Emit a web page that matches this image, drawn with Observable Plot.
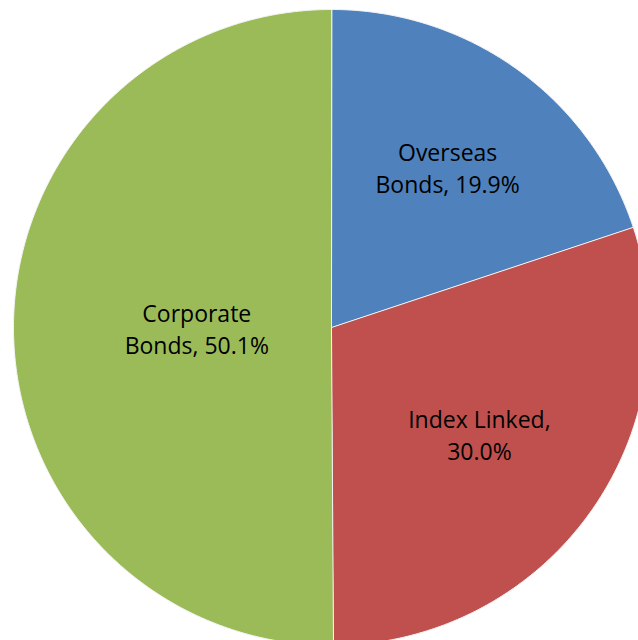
<!DOCTYPE html>
<html>
<head>
<meta charset="utf-8">
<script src="https://cdn.jsdelivr.net/npm/d3@7"></script>
<script src="https://cdn.jsdelivr.net/npm/@observablehq/plot@0.6"></script>
<style>
  html, body { margin: 0; padding: 0; background: #fff; }
</style>
</head>
<body>
<div id="chart"></div>
<script>
// Data (clockwise from 12 o'clock)
const categories = ["Overseas Bonds", "Index Linked", "Corporate Bonds"];
const labelLines = ["Overseas\nBonds, 19.9%", "Index Linked,\n30.0%", "Corporate\nBonds, 50.1%"];
const shares = [19.9, 30.0, 50.1];
const colors = ["#4F81BD", "#C0504D", "#9BBB59"];

const W = 638, H = 640;
const cx = 331, cy = 327, R = 318;

// Build slice polygons in unit-circle data space
const total = d3.sum(shares);
const slices = [];
const labels = [];
let acc = 0;
categories.forEach((name, i) => {
  const a0 = acc / total * 2 * Math.PI;
  acc += shares[i];
  const a1 = acc / total * 2 * Math.PI;
  slices.push({name, x: 0, y: 0});
  const n = Math.max(2, Math.ceil((a1 - a0) / (Math.PI / 360)));
  for (let k = 0; k <= n; k++) {
    const a = a0 + (a1 - a0) * k / n;
    slices.push({name, x: Math.sin(a), y: Math.cos(a)});
  }
  // label at the sector centroid (Excel "best fit" is close to it)
  const alpha = a1 - a0, mid = (a0 + a1) / 2;
  const rc = 4 * Math.sin(alpha / 2) / (3 * alpha);
  labels.push({name, text: labelLines[i], x: rc * Math.sin(mid), y: rc * Math.cos(mid)});
});

const chart = Plot.plot({
  width: W,
  height: H,
  margin: 0,
  x: {domain: [(0 - cx) / R, (W - cx) / R], axis: null},
  y: {domain: [-(H - cy) / R, cy / R], axis: null},
  color: {domain: categories, range: colors},
  style: {background: "#fff", fontFamily: "'Open Sans', 'DejaVu Sans', sans-serif"},
  marks: [
    Plot.line(slices, {x: "x", y: "y", z: "name", fill: "name", stroke: "#f4f4f4", strokeWidth: 1, curve: "linear-closed", clip: true}),
    Plot.text(labels, {x: "x", y: "y", text: "text", fill: "#000", fontSize: 23, lineHeight: 1.38, textAnchor: "middle"})
  ]
});
document.getElementById("chart").appendChild(chart);
</script>
</body>
</html>
